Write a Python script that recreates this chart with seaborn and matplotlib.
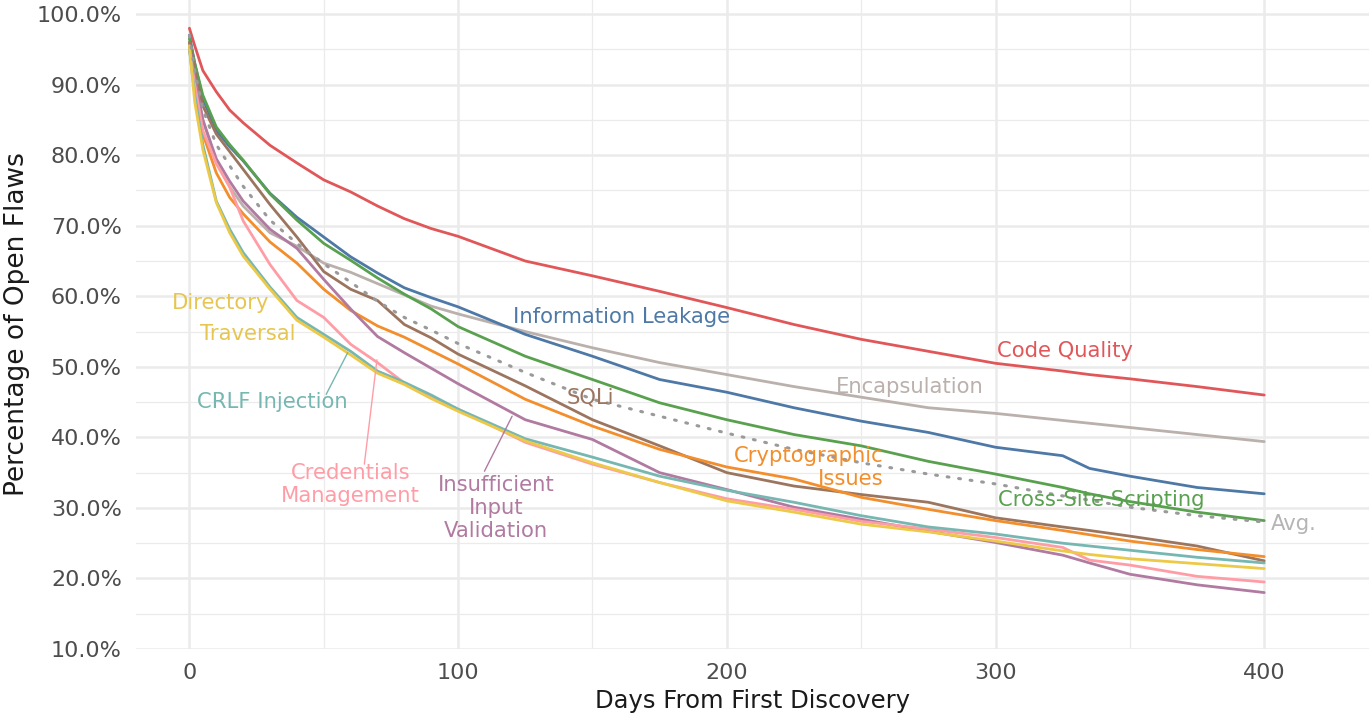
import matplotlib
matplotlib.use("Agg")
import matplotlib.pyplot as plt
import numpy as np
import pandas as pd
import seaborn as sns
from matplotlib.ticker import MultipleLocator, PercentFormatter

# days since discovery, shared by every curve
days = [0, 2, 5, 10, 15, 20, 30, 40, 50, 60, 70, 80, 90, 100, 125, 150,
        175, 200, 225, 250, 275, 300, 325, 335, 350, 375, 400]

code_quality = [98, 95.5, 92, 89, 86.4, 84.6, 81.4, 78.9, 76.5, 74.8, 72.8, 71.0, 69.6, 68.5,
                65, 62.9, 60.7, 58.4, 56, 53.9, 52.2, 50.5, 49.4, 48.9, 48.3, 47.2, 46.0]
encapsulation = [96, 91, 85, 79, 75.5, 72.8, 69, 67.1, 64.7, 63.4, 61.8, 60.2, 58.6, 57.5,
                 55, 52.7, 50.6, 48.9, 47.2, 45.7, 44.2, 43.4, 42.4, 42.0, 41.4, 40.4, 39.4]
info_leakage = [97, 93, 88, 83.5, 81.2, 79.2, 74.6, 71.2, 68.4, 65.6, 63.3, 61.2, 59.8, 58.5,
                54.6, 51.5, 48.2, 46.4, 44.2, 42.3, 40.7, 38.6, 37.4, 35.6, 34.5, 32.9, 32.0]
xss = [96.5, 93, 88.5, 84, 81.5, 79.3, 74.5, 70.8, 67.5, 65.1, 62.6, 60.3, 58.2, 55.7,
       51.5, 48.2, 44.9, 42.5, 40.4, 38.8, 36.6, 34.8, 32.9, 32.0, 30.9, 29.4, 28.2]
sqli = [96, 92, 87, 83, 80.5, 78, 73, 68.4, 63.5, 61, 59.4, 56, 54.1, 51.8,
        47.3, 42.5, 38.8, 35.0, 33.1, 31.9, 30.8, 28.6, 27.3, 26.8, 26.0, 24.6, 22.5]
crypto = [95.5, 90, 83, 77.5, 74, 71.7, 67.7, 64.7, 61, 58, 55.8, 54.2, 52.3, 50.4,
          45.4, 41.6, 38.3, 35.8, 34.1, 31.5, 29.8, 28.2, 26.8, 26.2, 25.3, 24.1, 23.1]
insufficient = [95.5, 91, 85, 79.5, 76.3, 73.5, 69.5, 66.8, 62.4, 58.2, 54.3, 52.0, 49.8, 47.6,
                42.5, 39.7, 35, 32.6, 30.1, 28.4, 26.7, 25.1, 23.3, 22.2, 20.6, 19.1, 18.0]
credentials = [95, 90, 83.5, 78.8, 75.5, 70.7, 64.5, 59.4, 57, 53.2, 50.6, 47.7, 45.6, 44,
               39.3, 36.2, 33.6, 31.3, 29.8, 28.1, 27.0, 25.8, 24.4, 22.6, 21.9, 20.3, 19.5]
crlf = [95, 88.5, 81.5, 73.5, 69.5, 66.2, 61.3, 57, 54.6, 52.2, 49.4, 47.8, 46, 44,
        39.8, 37.2, 34.5, 32.5, 30.8, 28.9, 27.3, 26.3, 25.0, 24.6, 24.0, 23.0, 22.2]
directory = [95.5, 87.5, 80.8, 73.3, 69, 65.7, 61, 56.6, 54.2, 51.7, 49.1, 47.5, 45.5, 43.7,
             39.5, 36.4, 33.6, 31.0, 29.4, 27.7, 26.6, 25.3, 23.9, 23.4, 22.8, 22.1, 21.4]
avg = [97, 92, 86.5, 81.5, 78.5, 75.6, 70.8, 67.5, 64.6, 62, 59.3, 57, 55.2, 53.3,
       49.2, 45.4, 43, 40.6, 38.3, 36.4, 34.8, 33.4, 31.7, 31.1, 30.1, 28.9, 28.0]

series = {
    "Code Quality": code_quality,
    "Encapsulation": encapsulation,
    "Information Leakage": info_leakage,
    "Cross-Site Scripting": xss,
    "SQLi": sqli,
    "Cryptographic Issues": crypto,
    "Insufficient Input Validation": insufficient,
    "Credentials Management": credentials,
    "CRLF Injection": crlf,
    "Directory Traversal": directory,
}

palette = {
    "Code Quality": "#e15759",
    "Encapsulation": "#bab0ac",
    "Information Leakage": "#4e79a7",
    "Cross-Site Scripting": "#59a14f",
    "SQLi": "#9c755f",
    "Cryptographic Issues": "#f28e2b",
    "Insufficient Input Validation": "#b07aa1",
    "Credentials Management": "#ff9da7",
    "CRLF Injection": "#76b7b2",
    "Directory Traversal": "#edc948",
}

df = pd.concat(
    [pd.DataFrame({"days": days, "pct": vals, "category": name}) for name, vals in series.items()],
    ignore_index=True,
)

sns.set_theme(style="white")
plt.rcParams["font.family"] = ["DejaVu Sans"]

fig = plt.figure(figsize=(13.69, 7.15), dpi=100)
ax = fig.add_axes([0.0991, 0.0923, 0.9009, 0.9077])

sns.lineplot(data=df, x="days", y="pct", hue="category", palette=palette,
             linewidth=2.0, legend=False, ax=ax)
sns.lineplot(x=days, y=avg, color="#9a9a9a", linewidth=2.2,
             linestyle=(0, (0.6, 3.2)), dash_capstyle="round", ax=ax)

# labels on the curves
lab = dict(fontsize=15.2, va="center")
ml = dict(linespacing=1.2, **lab)
ax.text(11.7, 59.0, "Directory", color="#e6c651", ha="center", **lab)
ax.text(21.6, 54.6, "Traversal", color="#e6c651", ha="center", **lab)
ax.text(160.7, 57.1, "Information Leakage", color="#4e79a7", ha="center", **lab)
ax.text(326, 52.2, "Code Quality", color="#e15759", ha="center", **lab)
ax.text(268, 47.1, "Encapsulation", color="#bab0ac", ha="center", **lab)
ax.text(149.2, 45.7, "SQLi", color="#9c755f", ha="center", **lab)
ax.text(31, 45.0, "CRLF Injection", color="#76b7b2", ha="center", **lab)
ax.text(258.2, 35.7, "Cryptographic\nIssues", color="#f28e2b", ha="right",
        multialignment="right", **ml)
ax.text(59.9, 33.3, "Credentials\nManagement", color="#ff9da7", ha="center",
        multialignment="center", **ml)
ax.text(114.2, 30.0, "Insufficient\nInput\nValidation", color="#b07aa1", ha="center",
        multialignment="center", **ml)
ax.text(339.4, 31.1, "Cross-Site Scripting", color="#59a14f", ha="center", **lab)
ax.text(402.6, 27.7, "Avg.", color="#b5b5b5", ha="left", **lab)

# leader lines
ax.plot([50.9, 58.9], [46.1, 52.0], color="#76b7b2", linewidth=1.0)
ax.plot([65.1, 69.8], [36.2, 51.0], color="#ff9da7", linewidth=1.0)
ax.plot([109.8, 120.1], [35.2, 43.0], color="#b07aa1", linewidth=1.0)

ax.set_xlim(-20, 439)
ax.set_ylim(10, 102)
ax.xaxis.set_major_locator(MultipleLocator(100))
ax.xaxis.set_minor_locator(MultipleLocator(50))
ax.yaxis.set_major_locator(MultipleLocator(10))
ax.yaxis.set_minor_locator(MultipleLocator(5))
ax.yaxis.set_major_formatter(PercentFormatter(decimals=1))

ax.grid(which="major", color="#ebebeb", linewidth=1.8)
ax.grid(which="minor", color="#ebebeb", linewidth=0.9)
ax.set_axisbelow(True)
for s in ax.spines.values():
    s.set_visible(False)
ax.tick_params(which="both", length=0, labelsize=16, labelcolor="#4d4d4d", pad=10)

ax.set_xlabel("Days From First Discovery", fontsize=17.5, color="#1a1a1a", labelpad=4.5)
ax.set_ylabel("Percentage of Open Flaws", fontsize=19, color="#1a1a1a", labelpad=5)

fig.savefig("out.png", dpi=100)
